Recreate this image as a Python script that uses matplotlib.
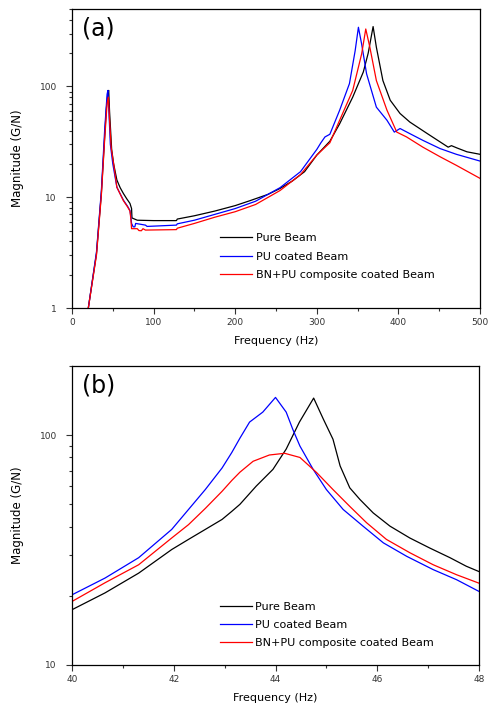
import matplotlib
matplotlib.use("Agg")
import matplotlib.pyplot as plt
from matplotlib.ticker import MultipleLocator, LogLocator, FixedLocator, FixedFormatter, NullFormatter

labels = ["Pure Beam", "PU coated Beam", "BN+PU composite coated Beam"]
colors = ["black", "#0000ff", "#ff0000"]

# (a) full range, 0-500 Hz
fa_pure = [20, 30, 36, 40, 42, 44, 45, 46, 48.6, 51, 55, 59, 63, 67, 71, 73, 73.5,
           80, 100, 128, 129, 150, 175, 200, 218, 240, 255, 270, 285, 300, 316, 328,
           344, 357, 363, 369, 373, 381, 390, 402, 414, 435, 451, 461, 465, 472, 484, 500]
ma_pure = [1.0, 3.1, 10.9, 35, 62, 88, 92, 60, 27, 20, 14.3, 12.2, 10.8, 9.7, 8.8, 7.9, 6.5,
           6.2, 6.15, 6.15, 6.35, 6.8, 7.5, 8.4, 9.3, 10.6, 12.0, 14.0, 17.0, 24, 32, 46,
           80, 135, 200, 347, 226, 113, 75, 57, 47.7, 37.7, 31.6, 28.3, 29.2, 27.8, 25.7, 24.4]

fa_pu = [20, 30, 36, 40, 43, 44, 45, 47, 50, 55, 63, 68, 71, 72, 73, 75, 77, 78,
         90, 92, 128, 129, 150, 175, 200, 225, 255, 280, 300, 305, 310, 316, 328,
         340, 347, 351, 355, 361, 373, 386, 395, 402, 414, 430, 451, 471, 500]
ma_pu = [1.0, 3.2, 11.5, 40, 85, 92, 65, 30, 20, 12.3, 9.4, 8.3, 7.6, 6.8, 5.8, 5.4, 5.4, 5.8,
         5.6, 5.45, 5.6, 5.75, 6.2, 7.0, 7.9, 9.2, 12.2, 17.0, 27, 31, 35, 37, 61,
         106, 210, 342, 240, 130, 65, 49.5, 38.7, 41.7, 37.5, 32.6, 27.5, 24.4, 21.2]

fa_bn = [20, 30, 36, 40, 43, 44.5, 46, 48, 51, 55, 63, 68, 71, 72, 73, 80, 82, 85, 87, 90,
         128, 129, 150, 175, 200, 225, 255, 280, 300, 316, 328, 344, 355, 360, 365,
         373, 386, 398, 410, 430, 451, 471, 500]
ma_bn = [1.0, 3.0, 10.5, 33, 70, 80, 50, 28, 20, 12.3, 9.3, 8.2, 7.5, 6.5, 5.2, 5.2, 5.0, 4.98, 5.2, 5.05,
         5.1, 5.25, 5.8, 6.6, 7.4, 8.6, 11.5, 16.0, 24, 31, 49.5, 92, 197, 330, 226,
         113, 61, 38.7, 35, 28.3, 23.2, 19.4, 14.8]

# (b) zoom on first mode, 40-48 Hz
fb_pure = [40, 40.65, 41.31, 41.96, 42.29, 42.62, 42.95, 43.14, 43.3, 43.62, 43.95, 44.21,
           44.47, 44.75, 44.94, 45.13, 45.27, 45.46, 45.66, 45.92, 46.25, 46.64, 47.03,
           47.43, 47.75, 48]
mb_pure = [17.4, 20.6, 25.1, 31.8, 35.2, 38.9, 43, 46.6, 50, 60, 71, 87,
           114, 145, 117.5, 96, 73.5, 59, 52.5, 45.9, 40.2, 35.7, 32.3,
           29.3, 26.9, 25.5]

fb_pu = [40, 40.65, 41.31, 41.96, 42.29, 42.62, 42.95, 43.14, 43.3, 43.49, 43.75, 44.0,
         44.21, 44.34, 44.48, 44.74, 45.0, 45.33, 45.72, 46.12, 46.58, 47.1, 47.56, 48]
mb_pu = [20.2, 23.9, 29.3, 38.9, 47.5, 58, 72, 84, 97, 114, 126, 146,
         126, 106, 89.7, 71, 58, 47.5, 40.2, 34, 29.7, 26, 23.5, 20.9]

fb_bn = [40, 40.65, 41.31, 41.96, 42.29, 42.62, 42.95, 43.14, 43.3, 43.56, 43.88, 44.18,
         44.48, 44.81, 45.13, 45.46, 45.79, 46.18, 46.64, 47.1, 47.56, 48]
mb_bn = [18.9, 22.8, 27.3, 35.7, 40.8, 48, 57, 63.5, 69, 77, 82, 83.4,
         80, 68.7, 58, 49, 41.6, 35.2, 30.8, 27.3, 24.7, 22.7]

fig = plt.figure(figsize=(4.88, 7.13), dpi=100)
ax1 = fig.add_axes([72/488, 1-308/713, 408/488, 299/713])
ax2 = fig.add_axes([72/488, 1-665/713, 407/488, 299/713])

panels = [
    (ax1, [(fa_pure, ma_pure), (fa_pu, ma_pu), (fa_bn, ma_bn)], "(a)", 0.25),
    (ax2, [(fb_pure, mb_pure), (fb_pu, mb_pu), (fb_bn, mb_bn)], "(b)", 0.212),
]

for ax, series, tag, ly in panels:
    for (f, m), c, lab in zip(series, colors, labels):
        ax.plot(f, m, color=c, lw=0.9, label=lab)
    ax.set_yscale("log")
    ax.set_xlabel("Frequency (Hz)", fontsize=8, labelpad=6)
    ax.set_ylabel("Magnitude (G/N)", fontsize=8.5, labelpad=11)
    ax.tick_params(which="both", direction="out", top=False, right=False,
                   labelsize=6.5, width=0.8, color="#333333", labelcolor="#333333")
    ax.tick_params(which="major", length=4)
    ax.tick_params(which="minor", length=2.5)
    ax.tick_params(axis="y", which="major", pad=7)
    ax.yaxis.set_minor_locator(LogLocator(base=10, subs=range(2, 10)))
    ax.yaxis.set_minor_formatter(NullFormatter())
    for s in ax.spines.values():
        s.set_linewidth(0.9)
    ax.text(0.025, 0.975, tag, transform=ax.transAxes, fontsize=17,
            va="top", ha="left")
    ax.legend(loc="upper left", bbox_to_anchor=(0.363, ly),
              frameon=False, fontsize=8, handlelength=2.9, handletextpad=0.3,
              labelspacing=0.75, borderpad=0, borderaxespad=0)

ax1.set_xlim(0, 500)
ax1.set_ylim(1, 500)
ax1.xaxis.set_major_locator(MultipleLocator(100))
ax1.xaxis.set_minor_locator(MultipleLocator(50))
ax1.yaxis.set_major_locator(FixedLocator([1, 10, 100]))
ax1.yaxis.set_major_formatter(FixedFormatter(["1", "10", "100"]))

ax2.set_xlim(40, 48)
ax2.set_ylim(10, 200)
ax2.xaxis.set_major_locator(MultipleLocator(2))
ax2.xaxis.set_minor_locator(MultipleLocator(1))
ax2.yaxis.set_major_locator(FixedLocator([10, 100]))
ax2.yaxis.set_major_formatter(FixedFormatter(["10", "100"]))

fig.savefig("out.png", dpi=100)
